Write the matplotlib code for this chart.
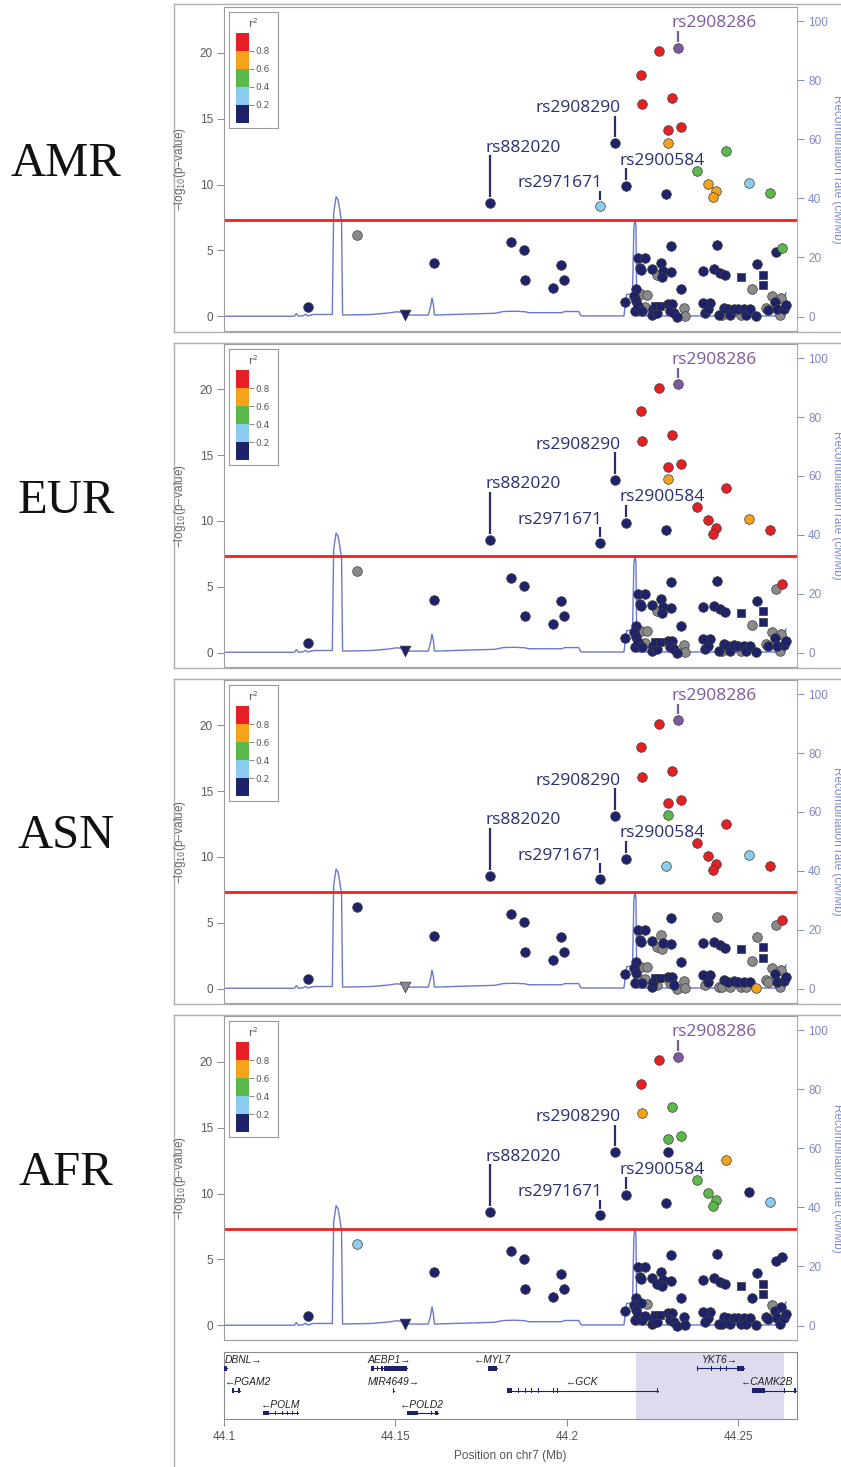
import numpy as np
import matplotlib.pyplot as plt
from matplotlib.lines import Line2D

# ---------------- data ----------------
populations = ["AMR", "EUR", "ASN", "AFR"]

# SNP position on chr7 (Mb) and -log10(p); same association in every panel
snp_pos = [
    # lead / labelled SNPs and everything above ~5
    44.2325, 44.2270, 44.2217, 44.2220, 44.2307, 44.2295, 44.2334, 44.2295, 44.2142, 44.2464,
    44.2381, 44.2411, 44.2435, 44.2426, 44.2531, 44.2592, 44.2173, 44.2291, 44.2096, 44.1776,
    44.1388, 44.1838, 44.1876, 44.1878, 44.1961, 44.1984, 44.1993, 44.1613, 44.1246, 44.2627,
    44.2611,
    # cluster, upper part
    44.2305, 44.2440, 44.2209, 44.2229, 44.2214, 44.2216, 44.2250, 44.2275, 44.2280, 44.2305,
    44.2263, 44.2279, 44.2334, 44.2397, 44.2431, 44.2448, 44.2463, 44.2555, 44.2542,
    # cluster, lower part
    44.2171, 44.2203, 44.2197, 44.2216, 44.2234, 44.2203, 44.2200, 44.2209, 44.2219, 44.2229,
    44.2248, 44.2253, 44.2263, 44.2297, 44.2307, 44.2302, 44.2312, 44.2323, 44.2341, 44.2346,
    44.2404, 44.2411, 44.2417, 44.2443, 44.2453, 44.2460, 44.2470, 44.2477, 44.2487, 44.2501,
    44.2508, 44.2516, 44.2524, 44.2535, 44.2553, 44.2582, 44.2599, 44.2609, 44.2586, 44.2613,
    44.2621, 44.2633, 44.2640, 44.2625, 44.2398,
]
snp_logp = [
    20.38, 20.13, 18.33, 16.10, 16.53, 14.12, 14.32, 13.18, 13.13, 12.52,
    11.03, 10.04, 9.48, 9.02, 10.14, 9.33, 9.86, 9.28, 8.36, 8.59,
    6.18, 5.63, 5.04, 2.74, 2.15, 3.90, 2.76, 4.03, 0.71, 5.22,
    4.85,
    5.33, 5.45, 4.44, 4.44, 3.69, 3.51, 3.61, 4.07, 3.43, 3.36,
    3.18, 2.98, 2.05, 3.43, 3.56, 3.31, 3.11, 3.94, 2.10,
    1.08, 2.05, 1.54, 1.67, 1.62, 1.16, 0.40, 0.78, 0.40, 0.73,
    0.08, 0.53, 0.28, 0.91, 0.91, 0.40, 0.28, -0.03, 0.61, 0.03,
    0.28, 0.53, 1.03, 0.08, 0.15, 0.66, 0.53, 0.08, 0.58, 0.53,
    0.08, 0.53, 0.15, 0.53, 0.03, 0.66, 1.54, 1.08, 0.48, 0.53,
    0.15, 0.58, 0.90, 1.40, 1.00,
]

# LD class per SNP and population:
# N r2<0.2, L 0.2-0.4, G 0.4-0.6, O 0.6-0.8, R >0.8, X no LD info, P index SNP
ld_amr = ("PRRRRRRONGGOOOLGNNLNXNNNNNNNNGN" + "NNNNNNNNNNXNNNNNNNX"
          + "NNNXX" "NNNNX" "NNNNN" "NNNXX" "NNNNX" "NNNNN" "XNNNN" "XXNNN" "XNNXN")
ld_eur = ("PRRRRRRONRRRRRORNNNNXNNNNNNNNRX" + "NNNNNNNNNNXNNNNNNNX"
          + "NNNXX" "NNNNX" "NNNNN" "NNNXX" "NNNNX" "NNNNN" "XNNNN" "XXNNN" "XNNXN")
ld_asn = ("PRRRRRRGNRRRRRLRNLNNNNNNNNNNNRX" + "NXNNNNNXNNXXNNNNNXX"
          + "NNNXX" "NNXNX" "NNXNN" "XNXXX" "XNNXX" "NNXNN" "XNXNO" "XXNXN" "XNNXN")
ld_afr = ("PRROGGGNNOGGGGNLNNNNLNNNNNNNNNN" + "NNNNNNNNNNNNNNNNNNN"
          + "NNNNX" "NNNNN" "NNNNN" "NNNNN" "NNNNN" "NNNNN" "NNNNN" "NXNNN" "NNNNN")
ld_codes = {"AMR": ld_amr, "EUR": ld_eur, "ASN": ld_asn, "AFR": ld_afr}

# square-marked SNPs (all r2<0.2) and the one triangle
sq_pos = [44.2509, 44.2574, 44.2572, 44.2258, 44.2271]
sq_logp = [3.00, 3.18, 2.35, 0.83, 0.83]
tri_pos = [44.1529]
tri_logp = [0.10]
tri_ld = {"AMR": "N", "EUR": "N", "ASN": "X", "AFR": "N"}

# labelled SNPs -> index into snp_pos
snp_labels = ["rs2908286", "rs2908290", "rs882020", "rs2971671", "rs2900584"]
snp_label_idx = [0, 8, 19, 18, 16]

# recombination rate (cM/Mb)
rec_pos = [44.1000, 44.1205, 44.1211, 44.1217, 44.1232, 44.1238, 44.1244, 44.1262, 44.1316,
           44.1320, 44.1327, 44.1333, 44.1338, 44.1341, 44.1343,
           44.1346, 44.1430, 44.1480, 44.1503, 44.1525, 44.1540, 44.1596, 44.1602, 44.1607,
           44.1611, 44.1614,
           44.1700, 44.1790, 44.1815, 44.1850, 44.1880, 44.1888, 44.1985, 44.1995, 44.2035,
           44.2042,
           44.2167, 44.2175, 44.2192, 44.2196, 44.2199, 44.2202, 44.2204, 44.2206,
           44.2619, 44.2640]
rec_rate = [0.1, 0.1, 1.0, 0.1, 0.3, 0.8, 0.2, 0.7, 0.7,
            35.0, 40.6, 39.5, 36.0, 33.5, 32.5,
            0.5, 0.7, 1.2, 1.6, 1.4, 0.5, 0.5, 3.0, 6.3, 4.0, 0.5,
            0.8, 1.1, 1.7, 1.8, 1.6, 1.3, 1.3, 1.7, 1.7, 0.2,
            0.2, 7.5, 7.5, 30.0, 32.8, 31.0, 7.5, 0.2,
            0.2, 8.0]

# genes
gene_name = ["DBNL", "AEBP1", "MYL7", "YKT6", "PGAM2", "MIR4649", "GCK", "CAMK2B", "POLM", "POLD2"]
gene_strand = ["+", "+", "-", "+", "-", "+", "-", "-", "-", "-"]
gene_row = [2, 2, 2, 2, 1, 1, 1, 1, 0, 0]
gene_start = [44.0950, 44.1429, 44.1769, 44.2381, 44.1023, 44.1493, 44.1825, 44.2541, 44.1114, 44.1533]
gene_end = [44.1008, 44.1535, 44.1798, 44.2516, 44.1048, 44.1495, 44.2266, 44.2750, 44.1216, 44.1623]
gene_exons = [
    [(44.1000, 44.1008)],
    [(44.1429, 44.1437), (44.1446, 44.1449), (44.1458, 44.1464), (44.1468, 44.1535)],
    [(44.1769, 44.1798)],
    [(44.2381, 44.2384), (44.2422, 44.2425), (44.2447, 44.2450), (44.2465, 44.2468), (44.2498, 44.2516)],
    [(44.1023, 44.1028), (44.1040, 44.1048)],
    [(44.1493, 44.1495)],
    [(44.1825, 44.1841), (44.1859, 44.1862), (44.1878, 44.1881), (44.1897, 44.1900),
     (44.1915, 44.1918), (44.1959, 44.1962), (44.1972, 44.1975), (44.2264, 44.2267)],
    [(44.2541, 44.2579), (44.2633, 44.2637), (44.2664, 44.2668)],
    [(44.1114, 44.1131), (44.1150, 44.1153), (44.1168, 44.1171), (44.1184, 44.1187),
     (44.1197, 44.1200), (44.1213, 44.1216)],
    [(44.1533, 44.1566), (44.1603, 44.1606), (44.1615, 44.1623)],
]
shade_start, shade_end = 44.2201, 44.2635

for p in populations:
    assert len(ld_codes[p]) == len(snp_pos) == len(snp_logp), p

# ---------------- styling ----------------
COL = {"N": "#1e226a", "L": "#8acdee", "G": "#5cb84a", "O": "#f6a31c",
       "R": "#e51f24", "X": "#8a8a8a", "P": "#7c59a3"}
DRAW_ORDER = ["X", "N", "L", "G", "O", "R", "P"]
LABEL_COL = "#2a2e70"
REC = "#6a78cf"
REC_AX = "#7f88cc"
FRAME = "#b0b0b0"
SANS = "Liberation Sans"

W, H = 841, 1467
XMIN, XMAX = 44.1, 44.2672
fig = plt.figure(figsize=(W / 100, H / 100), dpi=100)


def box(x0, y0, x1, y1):
    return [x0 / W, 1 - y1 / H, (x1 - x0) / W, (y1 - y0) / H]


def hline(y, x0=174, x1=841):
    fig.add_artist(Line2D([x0 / W, x1 / W], [1 - y / H] * 2, color=FRAME, lw=1))


def vline(x, y0, y1):
    fig.add_artist(Line2D([x / W] * 2, [1 - y0 / H, 1 - y1 / H], color=FRAME, lw=1))


tops = [7, 344, 680, 1016]
bots = [331, 667, 1003, 1340]
frame_top = [4, 343, 679, 1015]
frame_bot = [332, 668, 1004, 1467]

# label layout: text baseline (-log10 p units), alignment, x offset (Mb)
label_y = [21.9, 15.5, 12.5, 9.8, 11.5]
label_ha = ["left", "right", "left", "right", "left"]
label_dx = [-0.0018, 0.0015, -0.0012, 0.0009, -0.0020]

for k, pop in enumerate(populations):
    top, bot = tops[k], bots[k]
    ax = fig.add_axes(box(224, top, 797, bot))
    ax2 = ax.twinx()
    ax.set_zorder(ax2.get_zorder() + 1)
    ax.patch.set_visible(False)

    ax2.plot(rec_pos, rec_rate, color=REC, lw=1.0)
    ax2.set_ylim(-4.9, 104.8)
    ax2.set_yticks([0, 20, 40, 60, 80, 100])
    ax2.tick_params(axis="y", colors=REC_AX, labelsize=8.5, length=5, width=0.7, pad=3)
    for lab in ax2.get_yticklabels():
        lab.set_family(SANS)
    for s in ["left", "top", "bottom"]:
        ax2.spines[s].set_visible(False)
    ax2.spines["right"].set_color("#a7acd6")
    ax2.spines["right"].set_linewidth(0.8)

    ax.set_xlim(XMIN, XMAX)
    ax.set_ylim(-1.1, 23.45)
    ax.set_xticks([])
    ax.set_yticks([0, 5, 10, 15, 20])
    ax.tick_params(axis="y", colors="#8a8a8a", labelcolor="#5a5a5a", labelsize=8.5,
                   length=5, width=0.7, pad=3)
    for lab in ax.get_yticklabels():
        lab.set_family(SANS)
    ax.spines["right"].set_visible(False)
    for s in ["left", "top", "bottom"]:
        ax.spines[s].set_color("#9c9c9c")
        ax.spines[s].set_linewidth(0.8)

    ax.axhline(-np.log10(5e-8), color="#ee2222", lw=2.0, zorder=1)

    codes = ld_codes[pop]
    for rank, c in enumerate(DRAW_ORDER):
        idx = [i for i, cc in enumerate(codes) if cc == c]
        if idx:
            ax.scatter([snp_pos[i] for i in idx], [snp_logp[i] for i in idx], s=48,
                       color=COL[c], edgecolors="#3c3c3c", linewidths=0.5, zorder=3 + rank)
    ax.scatter(sq_pos, sq_logp, marker="s", s=32, color=COL["N"],
               edgecolors="#3c3c3c", linewidths=0.5, zorder=4)
    ax.scatter(tri_pos, tri_logp, marker="v", s=60, color=COL[tri_ld[pop]],
               edgecolors="#3c3c3c", linewidths=0.5, zorder=4)

    for j, name in enumerate(snp_labels):
        i = snp_label_idx[j]
        x, y = snp_pos[i], snp_logp[i]
        col = COL["P"] if codes[i] == "P" else LABEL_COL
        ax.plot([x, x], [y + 0.45, label_y[j] - 0.28], color=col, lw=1.6,
                solid_capstyle="butt", zorder=2)
        ax.text(x + label_dx[j], label_y[j], name, ha=label_ha[j], va="baseline",
                color=col, fontsize=12.5, family="Open Sans", zorder=12)

    # r2 legend
    lg = fig.add_axes(box(229, top + 5, 278, top + 121))
    lg.set_xticks([])
    lg.set_yticks([])
    for s in lg.spines.values():
        s.set_color("#9c9c9c")
        s.set_linewidth(0.8)
    lg.text(0.5, 0.905, "r$^2$", ha="center", va="center", fontsize=7.5,
            color="#555555", transform=lg.transAxes)
    cb = fig.add_axes(box(236, top + 26, 249, top + 116))
    edges = [0.0, 0.2, 0.4, 0.6, 0.8]
    cb.bar([0] * 5, [0.2] * 5, bottom=edges, width=1.0,
           color=[COL["N"], COL["L"], COL["G"], COL["O"], COL["R"]])
    cb.set_xlim(-0.5, 0.5)
    cb.set_ylim(0, 1)
    cb.set_xticks([])
    cb.yaxis.tick_right()
    cb.set_yticks([0.2, 0.4, 0.6, 0.8])
    cb.set_yticklabels(["0.2", "0.4", "0.6", "0.8"])
    cb.tick_params(axis="y", colors="#777777", labelcolor="#555555", labelsize=6.5,
                   length=3.5, width=0.6, pad=1)
    for s in cb.spines.values():
        s.set_visible(False)

    # axis titles and population label
    yc = (top + bot) / 2
    fig.text(180 / W, 1 - yc / H, "\u2212log$_{10}$(p\u2212value)", rotation=90,
             ha="center", va="center", fontsize=8.5, color="#666666", family=SANS)
    fig.text(837 / W, 1 - yc / H, "Recombination rate (cM/Mb)", rotation=270,
             ha="center", va="center", fontsize=8.5, color=REC_AX, family=SANS)
    fig.text(66 / W, 1 - (yc - 5) / H, pop, ha="center", va="center", fontsize=35,
             family="Liberation Serif", color="#111111")

    # picture frame around each panel
    hline(frame_top[k])
    if k < 3:
        hline(frame_bot[k])
    vline(174, frame_top[k], frame_bot[k])

# ---------------- gene track ----------------
gx = fig.add_axes(box(224, 1352, 797, 1419))
gx.set_xlim(XMIN, XMAX)
gx.set_ylim(-0.27, 2.73)
gx.axvspan(shade_start, shade_end, color="#dcdcee", lw=0, zorder=0)
gene_texts = []
for g, name in enumerate(gene_name):
    r = gene_row[g]
    gx.plot([gene_start[g], gene_end[g]], [r, r], color=COL["N"], lw=0.8, zorder=2)
    gx.broken_barh([(a, max(b - a, 0.0002)) for a, b in gene_exons[g]], (r - 0.1, 0.2),
                   facecolors=COL["N"], zorder=3)
    label = name + "\u2192" if gene_strand[g] == "+" else "\u2190" + name
    xc = max(min((gene_start[g] + gene_end[g]) / 2, XMAX), XMIN)
    t = gx.text(xc, r + 0.24, label, ha="center", va="baseline", fontsize=7.4,
                style="italic", color="#222222", family=SANS)
    gene_texts.append(t)

gx.set_xticks([44.1, 44.15, 44.2, 44.25])
gx.set_xticklabels(["44.1", "44.15", "44.2", "44.25"])
gx.set_yticks([])
gx.tick_params(axis="x", colors="#8a8a8a", labelcolor="#555555", labelsize=8.5,
               length=5, width=0.7, pad=4)
for lab in gx.get_xticklabels():
    lab.set_family(SANS)
for s in gx.spines.values():
    s.set_color("#8c8c8c")
    s.set_linewidth(0.8)
gx.set_xlabel("Position on chr7 (Mb)", fontsize=8.5, color="#555555", family=SANS, labelpad=5)

# keep gene labels inside the track
fig.canvas.draw()
rend = fig.canvas.get_renderer()
gb = gx.get_window_extent(rend)
for t in gene_texts:
    bb = t.get_window_extent(rend)
    if bb.x0 < gb.x0:
        t.set_ha("left")
        t.set_x(XMIN + 0.0003)
    elif bb.x1 > gb.x1:
        t.set_ha("right")
        t.set_x(XMAX - 0.0012)

fig.savefig("out.png", dpi=100)
